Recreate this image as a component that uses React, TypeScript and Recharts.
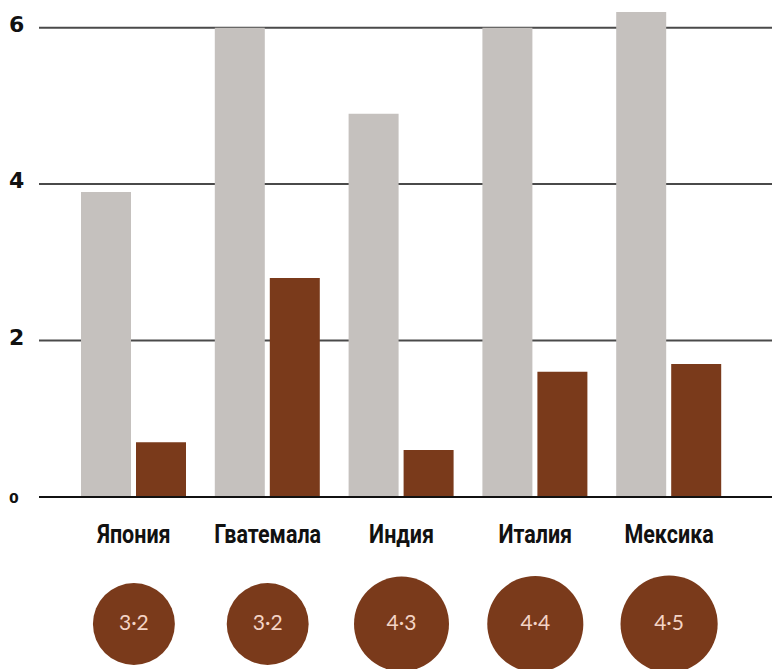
import { BarChart, Bar, XAxis, YAxis, CartesianGrid } from 'recharts'

const countries = ['Япония', 'Гватемала', 'Индия', 'Италия', 'Мексика']
const grayValues = [3.9, 6.0, 4.9, 6.0, 6.2]
const brownValues = [0.7, 2.8, 0.6, 1.6, 1.7]
const ratings = [3.2, 3.2, 4.3, 4.4, 4.5]
const yTicks = [0, 2, 4, 6]
const gridValues = [2, 4, 6]

const data = countries.map((c, i) => ({
  country: c,
  gray: grayValues[i],
  brown: brownValues[i],
  rating: ratings[i],
}))

const BROWN = '#7a3a1b'
const GRAY = '#c5c1be'

function YTick({ y, payload }: any) {
  // the zero is an old-style figure in the original, so it sits smaller
  const zero = payload.value === 0
  return (
    <text
      x={9}
      y={y}
      dy={zero ? 2 : -2}
      dominantBaseline="middle"
      textAnchor="start"
      fontFamily="'DejaVu Sans', sans-serif"
      fontWeight={700}
      fontSize={zero ? 14 : 22}
      fill="#111"
    >
      {payload.value}
    </text>
  )
}

function XTick({ x, y, payload, index }: any) {
  const rating = ratings[index]
  const r = 22.9 * Math.sqrt(rating)
  return (
    <g>
      <text
        transform={`translate(${x},${y + 46}) scale(0.86,1)`}
        textAnchor="middle"
        fontFamily="'Roboto', sans-serif"
        fontWeight={700}
        fontSize={25}
        fill="#111"
      >
        {payload.value}
      </text>
      <circle cx={x} cy={y + 127} r={r} fill={BROWN} />
      <text
        x={x}
        y={y + 127}
        dy={1}
        dominantBaseline="middle"
        textAnchor="middle"
        fontFamily="'Lato', 'Open Sans', sans-serif"
        fontSize={21}
        fill="#f4d4c6"
      >
        {rating.toFixed(1).replace('.', '·')}
      </text>
    </g>
  )
}

export default function App() {
  return (
    <div style={{ position: 'absolute', left: 0, top: 0, background: '#fff' }}>
      <BarChart
        width={772}
        height={669}
        data={data}
        margin={{ top: 12, right: 0, left: 0, bottom: 0 }}
        barSize={50}
        barGap={5}
      >
        <CartesianGrid
          horizontal
          vertical={false}
          horizontalValues={gridValues}
          stroke="#4a4a4a"
          strokeWidth={2}
        />
        <YAxis
          domain={[0, 6.2]}
          ticks={yTicks}
          width={39}
          axisLine={false}
          tickLine={false}
          tick={<YTick />}
        />
        <XAxis
          dataKey="country"
          height={172}
          padding={{ left: 28, right: 36 }}
          axisLine={{ stroke: '#111', strokeWidth: 2 }}
          tickLine={false}
          tickSize={0}
          tickMargin={0}
          interval={0}
          tick={<XTick />}
        />
        <Bar dataKey="gray" fill={GRAY} isAnimationActive={false} />
        <Bar dataKey="brown" fill={BROWN} isAnimationActive={false} />
      </BarChart>
    </div>
  )
}
